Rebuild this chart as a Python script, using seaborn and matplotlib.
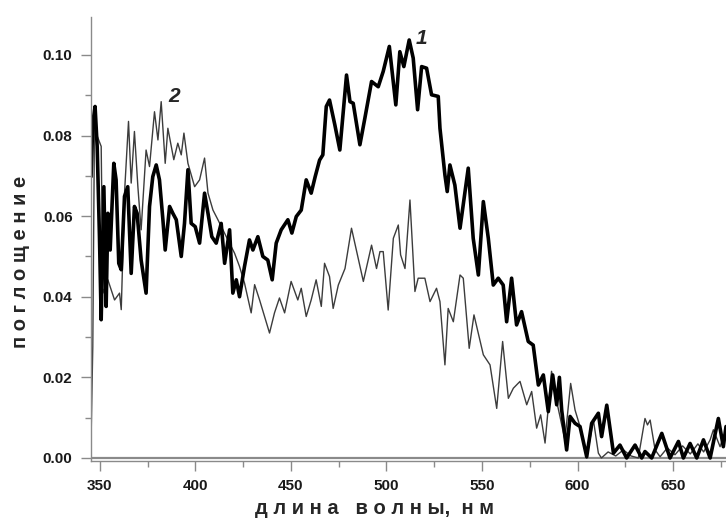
import matplotlib
matplotlib.use("Agg")
import matplotlib.pyplot as plt
from matplotlib.ticker import MultipleLocator, FormatStrFormatter
import seaborn as sns

# curve 1 (thick)
wl_1 = [345.4, 346.3, 347.5, 348.6, 349.8, 350.7, 352.1, 353.3, 354.2, 355.4,
        357.3, 358.5, 359.9, 361.2, 362.9, 364.6, 366.4, 368.1, 369.5, 371.6,
        374.2, 376.0, 377.7, 379.5, 381.2, 383.0, 384.2, 386.5, 388.2, 390.0,
        392.6, 394.3, 396.1, 397.8, 399.9, 402.2, 404.8, 406.6, 408.6, 410.9,
        413.5, 415.3, 417.9, 419.6, 421.4, 423.1, 425.7, 428.3, 430.1, 432.7,
        435.3, 437.9, 440.2, 442.3, 444.9, 448.4, 450.5, 452.8, 455.4, 458.0,
        460.6, 462.7, 465.0, 466.7, 468.5, 470.2, 473.0, 475.6, 479.1, 480.9,
        482.6, 486.1, 488.7, 492.2, 495.7, 498.3, 501.5, 504.9, 507.0, 509.1,
        511.9, 514.0, 516.3, 518.4, 521.0, 523.6, 527.1, 528.0, 530.6, 531.8,
        533.2, 535.8, 538.5, 542.8, 545.4, 548.1, 550.7, 553.3, 555.9, 558.5,
        561.1, 562.9, 565.5, 568.1, 570.7, 574.2, 576.8, 579.5, 582.1, 584.7,
        587.0, 589.1, 590.5, 591.7, 594.3, 596.1, 598.7, 601.3, 604.8, 607.4,
        610.9, 612.6, 615.3, 618.8, 622.2, 625.7, 630.1, 633.6, 635.3, 638.8,
        644.1, 648.4, 652.8, 655.4, 658.9, 662.4, 665.9, 669.4, 673.7, 676.3,
        677.7]
abs_1 = [0.0698, 0.0830, 0.0872, 0.0773, 0.0549, 0.0343, 0.0673, 0.0376, 0.0607, 0.0516,
         0.0731, 0.0690, 0.0483, 0.0467, 0.0649, 0.0673, 0.0458, 0.0624, 0.0607, 0.0491,
         0.0409, 0.0624, 0.0698, 0.0727, 0.0690, 0.0591, 0.0516, 0.0624, 0.0607, 0.0591,
         0.0500, 0.0582, 0.0715, 0.0582, 0.0574, 0.0533, 0.0657, 0.0607, 0.0549, 0.0533,
         0.0582, 0.0483, 0.0566, 0.0409, 0.0442, 0.0400, 0.0475, 0.0541, 0.0516, 0.0549,
         0.0500, 0.0491, 0.0442, 0.0533, 0.0566, 0.0591, 0.0558, 0.0599, 0.0615, 0.0690,
         0.0657, 0.0698, 0.0739, 0.0752, 0.0872, 0.0888, 0.0826, 0.0764, 0.0950, 0.0884,
         0.0880, 0.0777, 0.0843, 0.0934, 0.0921, 0.0959, 0.1021, 0.0876, 0.1008, 0.0971,
         0.1037, 0.0992, 0.0864, 0.0971, 0.0967, 0.0901, 0.0897, 0.0818, 0.0702, 0.0661,
         0.0727, 0.0677, 0.0570, 0.0719, 0.0545, 0.0454, 0.0636, 0.0545, 0.0429, 0.0446,
         0.0429, 0.0338, 0.0446, 0.0330, 0.0363, 0.0289, 0.0280, 0.0181, 0.0206, 0.0115,
         0.0206, 0.0132, 0.0200, 0.0119, 0.0020, 0.0103, 0.0086, 0.0078, 0.0003, 0.0086,
         0.0111, 0.0053, 0.0131, 0.0012, 0.0032, 0.0000, 0.0032, 0.0000, 0.0016, 0.0000,
         0.0061, 0.0000, 0.0041, 0.0000, 0.0036, 0.0000, 0.0045, 0.0000, 0.0098, 0.0028,
         0.0078]

# curve 2 (thin)
wl_2 = [345.0, 345.4, 346.3, 347.2, 348.5, 350.7, 351.6, 354.2, 357.7, 360.3,
        361.2, 363.0, 365.0, 366.4, 368.1, 369.9, 371.6, 374.2, 376.0, 378.6,
        380.4, 382.1, 384.2, 385.6, 388.7, 390.8, 392.6, 394.0, 396.1, 399.6,
        402.2, 404.8, 406.6, 409.2, 411.8, 414.4, 417.0, 420.5, 423.1, 425.7,
        429.2, 431.0, 433.6, 436.2, 438.8, 441.4, 444.0, 446.7, 450.1, 453.6,
        455.4, 458.0, 460.6, 463.2, 465.9, 467.6, 470.2, 472.1, 474.8, 478.3,
        481.7, 484.4, 487.9, 492.2, 494.8, 496.6, 498.3, 500.9, 503.6, 506.2,
        507.4, 509.7, 512.3, 514.9, 516.6, 520.1, 522.8, 526.2, 528.0, 530.6,
        532.3, 535.0, 538.5, 540.2, 543.3, 545.8, 550.7, 554.2, 557.7, 560.8,
        563.8, 566.4, 569.9, 573.4, 576.0, 578.6, 580.7, 583.0, 586.4, 589.1,
        590.8, 593.4, 596.4, 598.7, 601.3, 604.8, 608.3, 610.9, 612.5, 616.0,
        620.0, 624.0, 628.0, 631.8, 635.3, 636.6, 638.0, 640.6, 643.2, 647.0,
        651.0, 655.0, 659.0, 663.0, 666.0, 669.4, 671.1, 674.6, 677.7]
abs_2 = [0.0030, 0.0045, 0.0276, 0.0831, 0.0800, 0.0773, 0.0409, 0.0442, 0.0392, 0.0409,
         0.0368, 0.0665, 0.0835, 0.0682, 0.0810, 0.0673, 0.0566, 0.0764, 0.0723, 0.0859,
         0.0789, 0.0884, 0.0731, 0.0818, 0.0740, 0.0781, 0.0752, 0.0806, 0.0731, 0.0673,
         0.0690, 0.0744, 0.0657, 0.0615, 0.0591, 0.0566, 0.0541, 0.0508, 0.0475, 0.0434,
         0.0360, 0.0430, 0.0392, 0.0351, 0.0310, 0.0360, 0.0397, 0.0360, 0.0438, 0.0392,
         0.0421, 0.0351, 0.0392, 0.0442, 0.0376, 0.0483, 0.0450, 0.0371, 0.0429, 0.0470,
         0.0570, 0.0512, 0.0438, 0.0528, 0.0470, 0.0512, 0.0512, 0.0367, 0.0545, 0.0578,
         0.0504, 0.0470, 0.0640, 0.0413, 0.0446, 0.0446, 0.0388, 0.0421, 0.0388, 0.0231,
         0.0371, 0.0338, 0.0454, 0.0446, 0.0272, 0.0355, 0.0256, 0.0231, 0.0123, 0.0289,
         0.0148, 0.0173, 0.0190, 0.0132, 0.0165, 0.0074, 0.0107, 0.0037, 0.0215, 0.0140,
         0.0103, 0.0045, 0.0185, 0.0119, 0.0078, 0.0000, 0.0094, 0.0012, 0.0000, 0.0015,
         0.0005, 0.0020, 0.0005, 0.0000, 0.0098, 0.0082, 0.0094, 0.0020, 0.0003, 0.0025,
         0.0008, 0.0030, 0.0010, 0.0035, 0.0015, 0.0045, 0.0070, 0.0028, 0.0070]

sns.set_style("ticks")
plt.rcParams["font.family"] = ["Liberation Sans", "DejaVu Sans"]

fig = plt.figure(figsize=(7.26, 5.25), dpi=100)
ax = fig.add_axes([0.1249, 0.1219, 0.8751, 0.8457])

sns.lineplot(x=wl_2, y=abs_2, ax=ax, color="#3c3c3c", linewidth=1.0, estimator=None)
sns.lineplot(x=wl_1, y=abs_1, ax=ax, color="black", linewidth=2.6, estimator=None)

ax.set_xlim(345.2, 677.7)
ax.set_ylim(-0.00075, 0.1094)
ax.axhline(0, color="#8a8a8a", linewidth=1.6, zorder=0)

ax.xaxis.set_major_locator(MultipleLocator(50))
ax.xaxis.set_minor_locator(MultipleLocator(25))
ax.yaxis.set_major_locator(MultipleLocator(0.02))
ax.yaxis.set_minor_locator(MultipleLocator(0.01))
ax.yaxis.set_major_formatter(FormatStrFormatter("%.2f"))

sns.despine(ax=ax)
for s in ["left", "bottom"]:
    ax.spines[s].set_color("#8a8a8a")
    ax.spines[s].set_linewidth(1.0)

ax.tick_params(axis="both", which="major", direction="out", length=7, width=1,
               color="#8a8a8a", labelsize=11, labelcolor="#1a1a1a", pad=6)
ax.tick_params(axis="both", which="minor", direction="out", length=4, width=1,
               color="#8a8a8a")
for lab in ax.get_xticklabels() + ax.get_yticklabels():
    lab.set_fontweight("bold")

ax.set_xlabel("д л и н а   в о л н ы,  н м", fontsize=14.5, fontweight="bold")
ax.set_ylabel("п о г л о щ е н и е", fontsize=14.5, fontweight="bold")
ax.xaxis.set_label_coords(0.4475, -0.108)
ax.yaxis.set_label_coords(-0.111, 0.448)
ax.xaxis.label.set_va("center")
ax.yaxis.label.set_va("center")

ax.text(518.4, 0.1041, "1", fontsize=15, fontweight="bold", fontstyle="italic",
        ha="center", va="center")
ax.text(389.1, 0.0897, "2", fontsize=15, fontweight="bold", fontstyle="italic",
        ha="center", va="center")

fig.savefig("out.png", dpi=100)
